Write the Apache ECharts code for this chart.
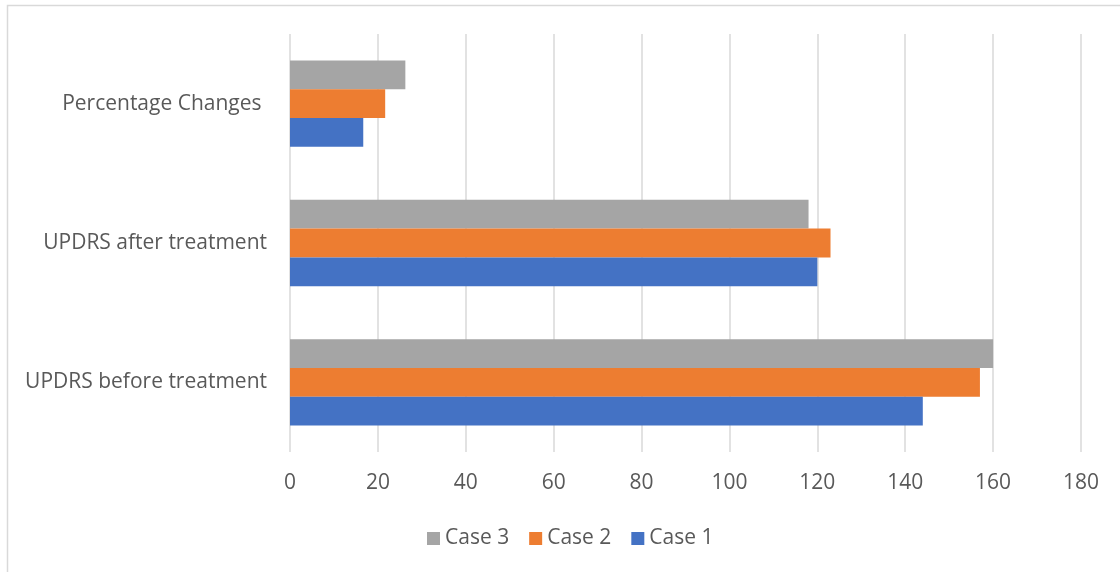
<!DOCTYPE html>
<html>
<head>
<meta charset="utf-8">
<script src="https://cdn.jsdelivr.net/npm/echarts@6/dist/echarts.min.js"></script>
<style>
  html, body { margin: 0; padding: 0; background: #fff; }
  #chart { width: 1120px; height: 572px; }
</style>
</head>
<body>
<div id="chart"></div>
<script>
// Category labels, bottom to top along the vertical axis
const categories = ['UPDRS before treatment', 'UPDRS after treatment', 'Percentage Changes '];

// Scores per case: before, after, percentage change
const case1 = [144, 120, 16.67];
const case2 = [157, 123, 21.66];
const case3 = [160, 118, 26.25];

// Series listed top bar first within each band
const seriesNames = ['Case 3', 'Case 2', 'Case 1'];
const seriesData = [case3, case2, case1];
const colors = ['#A5A5A5', '#ED7D31', '#4472C4'];

const font = 'Open Sans';
const textColor = '#595959';

const chart = echarts.init(document.getElementById('chart'), null, { renderer: 'canvas' });

chart.setOption({
  animation: false,
  backgroundColor: '#ffffff',
  color: colors,
  graphic: [{
    type: 'rect',
    silent: true,
    z: -10,
    shape: { x: 7.5, y: 5.5, width: 1130, height: 580 },
    style: { fill: 'none', stroke: '#D9D9D9', lineWidth: 1.5 }
  }],
  grid: { left: 290, right: 39, top: 34, bottom: 120, containLabel: false },
  legend: {
    data: seriesNames,
    bottom: 18,
    left: 422,
    itemWidth: 13,
    itemHeight: 13,
    itemGap: 20,
    icon: 'rect',
    textStyle: { fontFamily: font, fontSize: 21, color: textColor }
  },
  xAxis: {
    type: 'value',
    min: 0,
    max: 180,
    interval: 20,
    axisLine: { show: false },
    axisTick: { show: false },
    axisLabel: { fontFamily: font, fontSize: 21, color: textColor, margin: 21 },
    splitLine: { show: true, lineStyle: { color: '#D9D9D9', width: 1.5 } }
  },
  yAxis: {
    type: 'category',
    data: categories,
    axisLine: { show: false },
    axisTick: { show: false },
    axisLabel: { fontFamily: font, fontSize: 21, color: textColor, margin: 23 },
    splitLine: { show: false }
  },
  series: seriesNames.map((name, i) => ({
    name: name,
    type: 'bar',
    data: seriesData[i],
    barGap: '0%',
    barCategoryGap: '38%',
    itemStyle: { color: colors[i] }
  }))
});
</script>
</body>
</html>
